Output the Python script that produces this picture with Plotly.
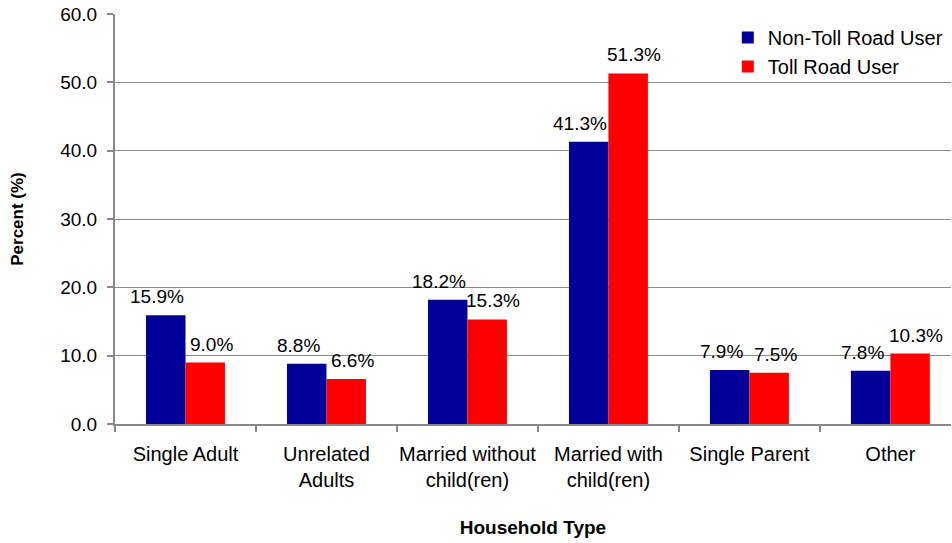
import plotly.graph_objects as go

categories = ["Single Adult", "Unrelated<br>Adults", "Married without<br>child(ren)",
              "Married with<br>child(ren)", "Single Parent", "Other"]
non_toll = [15.9, 8.8, 18.2, 41.3, 7.9, 7.8]
toll = [9.0, 6.6, 15.3, 51.3, 7.5, 10.3]
y_ticks = [0, 10, 20, 30, 40, 50, 60]

FONT = "Liberation Sans, Arial, sans-serif"

series = [
    ("Non-Toll Road User", non_toll, "#000099", -28),
    ("Toll Road User", toll, "#FF0000", 26),
]

fig = go.Figure()
for name, vals, color, xs in series:
    fig.add_trace(go.Bar(
        x=categories, y=vals, name=name,
        marker=dict(color=color, line=dict(width=0)),
        legendgroup="a"))
    for cat, v in zip(categories, vals):
        fig.add_annotation(
            x=cat, y=v, xref="x", yref="y", text=f"{v:.1f}%",
            showarrow=False, xanchor="center", yanchor="bottom",
            xshift=xs, yshift=6,
            font=dict(size=19, color="black", family=FONT))

fig.update_layout(
    width=952, height=543,
    margin=dict(l=115, r=1, t=14, b=119),
    paper_bgcolor="white", plot_bgcolor="white",
    font=dict(family=FONT, size=20, color="black"),
    barmode="group", bargap=0.44, bargroupgap=0,
    showlegend=True,
    legend=dict(x=0.733, y=0.99, xanchor="left", yanchor="top",
                font=dict(size=20), bgcolor="rgba(0,0,0,0)",
                tracegroupgap=0, itemwidth=30),
)
fig.update_xaxes(
    range=[-0.5, 5.43], showline=True, linecolor="#888888", linewidth=2,
    ticks="outside", tickson="boundaries", ticklen=6, tickcolor="#888888", tickwidth=2,
    tickfont=dict(size=20), ticklabelstandoff=11, tickangle=0,
    title=dict(text="<b>Household Type</b>", font=dict(size=19), standoff=31),
    showgrid=False, fixedrange=True)
fig.update_yaxes(
    range=[0, 60], tickvals=y_ticks, tickformat=".1f",
    showline=True, linecolor="#888888", linewidth=2,
    ticks="outside", ticklen=6, tickcolor="#888888", tickwidth=2,
    tickfont=dict(size=19), ticklabelstandoff=6,
    showgrid=True, gridcolor="#8c8c8c", gridwidth=1,
    zeroline=False,
    title=dict(text="<b>Percent (%)</b>", font=dict(size=17), standoff=32))

fig.write_html("out.html")
